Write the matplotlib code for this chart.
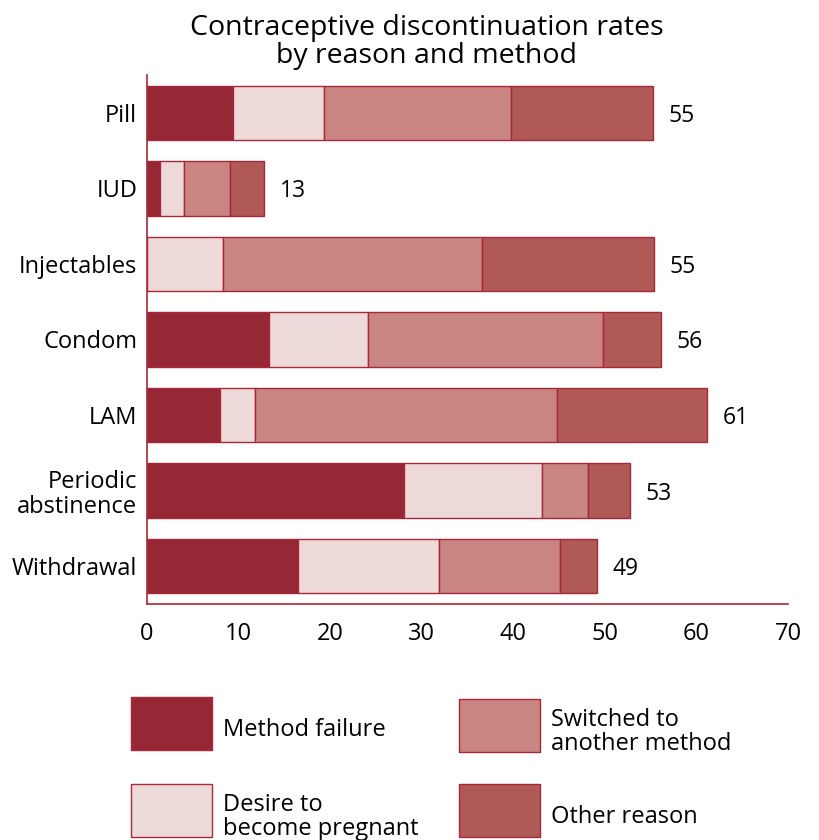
import matplotlib.pyplot as plt
from matplotlib.patches import Rectangle

# discontinuation rates per 100 users, split by reason
methods = ["Pill", "IUD", "Injectables", "Condom", "LAM", "Periodic\nabstinence", "Withdrawal"]
method_failure = [9.4, 1.4, 0.0, 13.3, 8.0, 28.1, 16.5]
desire_pregnant = [9.9, 2.6, 8.3, 10.8, 3.8, 15.0, 15.4]
switched = [20.5, 5.1, 28.3, 25.7, 33.0, 5.1, 13.2]
other_reason = [15.5, 3.7, 18.8, 6.3, 16.4, 4.5, 4.0]
totals = [55, 13, 55, 56, 61, 53, 49]

reasons = ["Method failure", "Desire to\nbecome pregnant",
           "Switched to\nanother method", "Other reason"]
colors = ["#962735", "#EED9D9", "#C98581", "#B05A58"]
edge = "#A8283A"

plt.rcParams['font.family'] = ['Open Sans', 'DejaVu Sans']

fig = plt.figure(figsize=(8.2, 8.4), dpi=100)
ax = fig.add_axes([0.1793, 0.281, 0.7817, 0.6297])

series = [method_failure, desire_pregnant, switched, other_reason]
y = list(range(len(methods)))
left = [0.0] * len(methods)
for vals, col in zip(series, colors):
    ax.barh(y, vals, left=left, height=0.72, color=col, edgecolor=edge, linewidth=1.0)
    left = [l + v for l, v in zip(left, vals)]

for i, t in enumerate(totals):
    ax.text(left[i] + 1.7, i, str(t), va="center_baseline", ha="left", fontsize=16.5)

ax.set_xlim(0, 70)
ax.set_ylim(6.5, -0.5)
ax.set_xticks(range(0, 71, 10))
ax.set_yticks(y)
ax.set_yticklabels(methods, linespacing=1.05, va="center_baseline")
ax.tick_params(length=0, labelsize=17)
ax.tick_params(axis="y", pad=7)
ax.tick_params(axis="x", pad=13)
for s in ["top", "right"]:
    ax.spines[s].set_visible(False)
for s in ["left", "bottom"]:
    ax.spines[s].set_color(edge)
    ax.spines[s].set_linewidth(1.2)

fig.text(0.52, 0.95, "Contraceptive discontinuation rates\nby reason and method",
         ha="center", va="center", fontsize=20.5, linespacing=1.0)

# legend drawn by hand in figure pixels
lax = fig.add_axes([0, 0, 1, 1])
lax.set_xlim(0, 820)
lax.set_ylim(840, 0)
lax.axis("off")
boxes = [(131, 697), (131, 784), (459, 699), (459, 784)]
for (bx, by), lab, col in zip(boxes, reasons, colors):
    lax.add_patch(Rectangle((bx, by), 81, 53, facecolor=col, edgecolor=edge, linewidth=1.0))
    lax.text(bx + 92, by + 33, lab, ha="left", va="center", fontsize=17, linespacing=1.0)

fig.savefig("out.png", dpi=100)
